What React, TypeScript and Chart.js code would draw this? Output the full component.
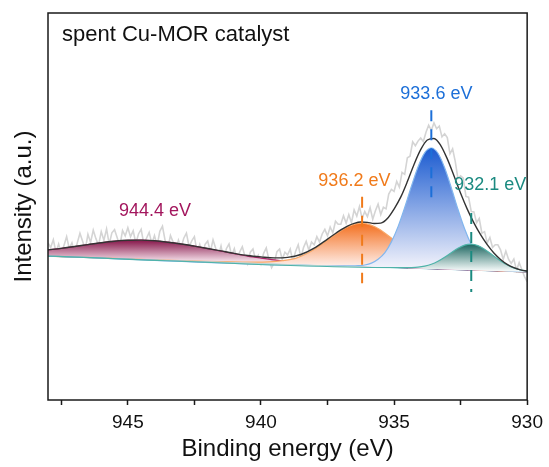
import React, { useEffect, useRef } from 'react';
import { Chart, registerables } from 'chart.js';

Chart.register(...registerables);

const FONT = "'Liberation Sans', Arial, Helvetica, sans-serif";

const sampleName = 'spent Cu-MOR catalyst';
const xAxisTitle = 'Binding energy (eV)';
const yAxisTitle = 'Intensity (a.u.)';

// peak centres (eV)
const peakCenters = [944.4, 936.2, 933.6, 932.1];

// linear background
const baselineEnergy = [948, 930];
const baselineValue = [37.2, 33.1];

// raw spectrum, 948 -> 930 eV, 0.1 eV step
const rawStart = 948;
const rawStep = 0.1;
const rawValue = [
  40.6, 39.4, 41.4, 38.2, 40.3, 37.7, 39.9, 42.2, 39.1, 40.6,
  37.9, 40.6, 43.1, 41.0, 38.9, 42.8, 40.7, 43.9, 41.7, 40.0,
  43.5, 41.3, 44.2, 40.3, 43.2, 44.0, 41.9, 39.8, 43.8, 42.4,
  44.5, 42.2, 43.7, 40.5, 42.9, 44.1, 40.3, 41.8, 43.3, 40.4,
  42.5, 39.9, 43.6, 44.9, 41.2, 39.2, 42.5, 40.8, 38.5, 41.3,
  39.4, 41.8, 43.1, 39.6, 41.1, 42.2, 38.3, 40.2, 37.4, 40.2,
  41.1, 38.3, 41.4, 39.2, 37.2, 39.8, 36.4, 39.1, 40.3, 37.3,
  39.1, 36.2, 38.2, 39.6, 37.1, 35.2, 38.2, 39.0, 36.1, 37.4,
  35.2, 37.9, 39.3, 36.2, 34.2, 35.5, 38.3, 39.0, 36.3, 38.2,
  37.5, 39.0, 35.7, 38.4, 40.1, 36.8, 39.4, 41.0, 38.7, 40.8,
  40.1, 42.2, 40.8, 42.9, 44.1, 42.4, 44.7, 43.2, 46.2, 45.4,
  45.4, 47.6, 45.7, 47.9, 45.8, 49.1, 47.5, 50.0, 46.9, 48.7,
  47.4, 49.7, 46.7, 48.9, 50.6, 47.9, 49.8, 49.4, 53.2, 54.4,
  53.9, 56.5, 55.0, 58.8, 58.3, 62.6, 63.0, 66.7, 65.7, 66.9,
  67.7, 66.8, 69.2, 71.0, 69.7, 71.6, 70.1, 70.8, 68.0, 68.8,
  67.8, 63.6, 64.9, 61.6, 57.2, 57.9, 57.3, 52.6, 52.4, 48.7,
  48.6, 45.8, 46.9, 43.1, 43.5, 40.6, 42.0, 39.4, 40.1, 40.1,
  38.8, 36.3, 38.5, 36.4, 35.3, 36.4, 33.5, 35.5, 33.7, 31.9,
  30.6,
];

// fitted envelope
const envelopeEnergy = [
  948, 947.5, 947, 946.5, 946, 945.5, 945, 944.5, 944, 943.5, 943, 942.5, 942, 941.5, 941, 940.5,
  940, 939.5, 939, 938.5, 938, 937.5, 937, 936.75, 936.5, 936.25, 936, 935.75, 935.5, 935.25, 935,
  934.75, 934.5, 934.25, 934, 933.75, 933.5, 933.25, 933, 932.75, 932.5, 932.25, 932, 931.75, 931.5,
  931.25, 931, 930.75, 930.5, 930.25, 930,
];
const envelopeValue = [
  38.8, 39.19, 39.67, 40.16, 40.64, 41.03, 41.27, 41.3, 41.14, 40.78, 40.31, 39.75, 39.15, 38.52, 37.89, 37.34,
  36.98, 36.72, 36.85, 37.6, 39.25, 41.58, 43.98, 44.96, 45.65, 46.0, 45.9, 45.6, 45.7, 46.9, 49.35,
  52.42, 56.44, 60.87, 64.69, 67.19, 67.59, 65.82, 62.31, 57.95, 53.43, 49.33, 45.77, 42.71, 40.13,
  37.98, 36.3, 35.04, 34.18, 33.63, 33.31,
];

// component 944.4 eV
const magentaEnergy = [948, 947.5, 947, 946.5, 946, 945.5, 945, 944.5, 944, 943.5, 943, 942.5, 942, 941.5, 941, 940.5, 940, 939.5, 939, 938.5, 938, 937.5, 937, 936.5, 936, 933, 930];
const magentaValue = [38.8, 39.19, 39.67, 40.16, 40.64, 41.03, 41.27, 41.3, 41.14, 40.78, 40.31, 39.75, 39.13, 38.47, 37.81, 37.19, 36.68, 36.22, 35.85, 35.54, 35.28, 35.06, 34.85, 34.68, 34.52, 33.8, 33.12];

// component 936.2 eV
const orangeEnergy = [948, 940.7, 940.2, 939.7, 939.2, 938.7, 938.2, 937.7, 937.2, 936.7, 936.2, 935.7, 935.2, 934.7, 934.2, 933.7, 933.2, 932.7, 932.2, 931.7, 930];
const orangeValue = [37.2, 35.64, 35.62, 35.7, 36.0, 36.6, 38.1, 40.3, 42.8, 44.9, 45.7, 44.7, 42.4, 39.6, 37.2, 35.4, 34.6, 34.1, 33.8, 33.6, 33.1];

// component 933.6 eV
const blueEnergy = [948, 936.6, 936.35, 936.1, 935.85, 935.6, 935.35, 935.1, 934.85, 934.6, 934.35, 934.1, 933.85, 933.6, 933.35, 933.1, 932.85, 932.6, 932.35, 932.1, 931.85, 931.6, 931.35, 931.1, 930.85, 930.6, 930];
const blueValue = [37.2, 34.65, 34.7, 34.89, 35.38, 36.38, 38.02, 40.86, 44.8, 49.75, 55.19, 60.23, 63.88, 65.12, 63.76, 60.01, 54.85, 49.29, 44.24, 40.18, 37.22, 35.47, 34.36, 33.75, 33.44, 33.29, 33.1];

// component 932.1 eV
const tealEnergy = [948, 934.6, 934.35, 934.1, 933.85, 933.6, 933.35, 933.1, 932.85, 932.6, 932.35, 932.1, 931.85, 931.6, 931.35, 931.1, 930.85, 930.6, 930.35, 930.1, 930];
const tealValue = [37.2, 34.2, 34.22, 34.32, 34.59, 35.07, 35.84, 36.88, 38.07, 39.2, 40.02, 40.28, 39.9, 38.98, 37.73, 36.42, 35.27, 34.39, 33.79, 33.41, 33.31];

const peakColors = ['#A3175E', '#F07A1A', '#1C6FD8', '#1B8A80'];

type P = { x: number; y: number };
const pts = (xs: number[], ys: number[]): P[] =>
  xs.map((x, i) => ({ x, y: ys[i] })).sort((a, b) => a.x - b.x);

const gradient = (top: number, bottom: number, c1: string, c2: string) => (context: any) => {
  const chart = context.chart;
  const { chartArea, scales } = chart;
  if (!chartArea || !scales.y) return c1;
  const y = scales.y;
  const g = chart.ctx.createLinearGradient(0, y.getPixelForValue(top), 0, y.getPixelForValue(bottom));
  g.addColorStop(0, c1);
  g.addColorStop(1, c2);
  return g;
};

const labelPlugin = {
  id: 'xpsLabels',
  afterDatasetsDraw(chart: any) {
    const { ctx, chartArea, scales } = chart;
    const x = scales.x;
    const y = scales.y;
    ctx.save();
    ctx.strokeStyle = '#1a1a1a';
    ctx.lineWidth = 1.5;
    ctx.strokeRect(chartArea.left, chartArea.top, chartArea.right - chartArea.left, chartArea.bottom - chartArea.top);
    ctx.fillStyle = '#111';
    ctx.font = `22px ${FONT}`;
    ctx.textAlign = 'left';
    ctx.textBaseline = 'middle';
    ctx.fillText(sampleName, chartArea.left + 14, chartArea.top + 22);
    const labelAt = [
      [943.98, 48.8],
      [936.49, 56.6],
      [933.41, 79.1],
      [931.39, 55.6],
    ];
    ctx.font = `18px ${FONT}`;
    ctx.textAlign = 'center';
    peakCenters.forEach((c, i) => {
      ctx.fillStyle = peakColors[i];
      ctx.fillText(`${c.toFixed(1)} eV`, x.getPixelForValue(labelAt[i][0]), y.getPixelForValue(labelAt[i][1]));
    });
    ctx.restore();
  },
};

export default function App() {
  const ref = useRef<HTMLCanvasElement>(null);

  useEffect(() => {
    document.body.style.margin = '0';
    const canvas = ref.current;
    if (!canvas) return;

    const rawPts: P[] = rawValue
      .map((v, i) => ({ x: +(rawStart - i * rawStep).toFixed(1), y: v }))
      .sort((a, b) => a.x - b.x);

    const dashRanges = [
      [74.9, 52.2],
      [52.5, 30.2],
      [48.3, 27.9],
    ];
    const dashCenters = [peakCenters[2], peakCenters[1], peakCenters[3]];
    const dashColors = [peakColors[2], peakColors[1], peakColors[3]];

    const dashSets = dashCenters.map((c, i) => ({
      data: [
        { x: c, y: dashRanges[i][0] },
        { x: c, y: dashRanges[i][1] },
      ],
      borderColor: dashColors[i],
      borderWidth: 2,
      borderDash: [11, 8],
      pointRadius: 0,
      fill: false,
      tension: 0,
    }));

    const BASE = 8;
    const comp = (xs: number[], ys: number[], line: string, bg: any) => ({
      data: pts(xs, ys),
      borderColor: line,
      borderWidth: 1.2,
      backgroundColor: bg,
      fill: BASE,
      pointRadius: 0,
      cubicInterpolationMode: 'monotone' as const,
    });

    const chart = new Chart(canvas, {
      type: 'line',
      data: {
        datasets: [
          ...dashSets, // 0,1,2
          {
            // 3 envelope
            data: pts(envelopeEnergy, envelopeValue),
            borderColor: '#333333',
            borderWidth: 1.4,
            pointRadius: 0,
            fill: false,
            cubicInterpolationMode: 'monotone',
          },
          comp(tealEnergy, tealValue, '#4FB3A9', gradient(40.3, 33.5, '#1C6660', '#F2F8F7')), // 4
          comp(blueEnergy, blueValue, '#82B6EE', gradient(65.1, 34.0, '#1B5BD0', '#F3F3FB')), // 5
          comp(orangeEnergy, orangeValue, '#F8A868', gradient(45.7, 34.3, '#F36F1E', '#FFF1EE')), // 6
          comp(magentaEnergy, magentaValue, '#B0246A', gradient(41.3, 35.8, '#86164A', '#F5E0EA')), // 7
          {
            // 8 background
            data: pts(baselineEnergy, baselineValue),
            borderColor: '#2CA5B5',
            borderWidth: 1.2,
            pointRadius: 0,
            fill: false,
            tension: 0,
          },
          {
            // 9 raw
            data: rawPts,
            borderColor: '#D4D4D4',
            borderWidth: 1.6,
            pointRadius: 0,
            fill: false,
            tension: 0,
          },
        ],
      },
      options: {
        animation: false,
        responsive: false,
        maintainAspectRatio: false,
        events: [],
        layout: { padding: { left: 0, right: 21, top: 13, bottom: 0 } },
        plugins: {
          legend: { display: false },
          tooltip: { enabled: false },
        },
        scales: {
          x: {
            type: 'linear',
            min: 930,
            max: 948,
            reverse: true,
            afterFit: (s: any) => {
              s.height = 67;
            },
            ticks: {
              stepSize: 2.5,
              includeBounds: false,
              autoSkip: false,
              maxRotation: 0,
              minRotation: 0,
              padding: 6,
              color: '#111',
              font: { family: FONT, size: 19 },
              callback: (v: any) => (Number(v) % 5 === 0 ? String(v) : ''),
            },
            grid: {
              drawOnChartArea: false,
              drawTicks: true,
              tickLength: 5,
              color: '#1a1a1a',
              tickWidth: 1.5,
            },
            border: { display: false },
            title: {
              display: true,
              text: xAxisTitle,
              color: '#111',
              font: { family: FONT, size: 24 },
              padding: { top: 0, bottom: 3 },
            },
          },
          y: {
            type: 'linear',
            min: 0,
            max: 100,
            afterFit: (s: any) => {
              s.width = 48;
            },
            ticks: { display: false },
            grid: { display: false },
            border: { display: false },
            title: {
              display: true,
              text: yAxisTitle,
              color: '#111',
              font: { family: FONT, size: 24 },
              padding: { top: 10, bottom: 0 },
            },
          },
        },
      },
      plugins: [labelPlugin],
    });

    return () => chart.destroy();
  }, []);

  return <canvas ref={ref} width={549} height={467} style={{ display: 'block' }} />;
}
